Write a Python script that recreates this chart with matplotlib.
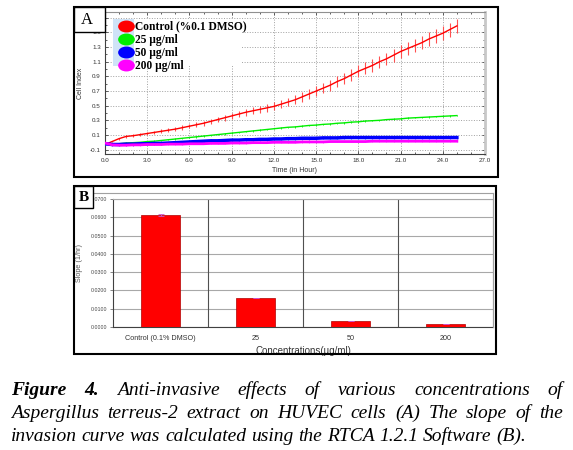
import numpy as np
import matplotlib
matplotlib.use('Agg')
import matplotlib.pyplot as plt
from matplotlib.lines import Line2D
from matplotlib.patches import Rectangle
from matplotlib.path import Path

plt.rcParams['font.family'] = ['Liberation Sans', 'DejaVu Sans']

# ---- panel A: cell index, one reading every 0.5 h ----
hours = np.arange(0, 25.5, 0.5)
control = [-0.03, 0.01, 0.05, 0.08, 0.09, 0.105, 0.12, 0.135, 0.15, 0.165,
           0.18, 0.20, 0.22, 0.24, 0.26, 0.285, 0.31, 0.335, 0.36, 0.385,
           0.41, 0.43, 0.45, 0.47, 0.49, 0.52, 0.55, 0.58, 0.62, 0.66,
           0.70, 0.74, 0.78, 0.83, 0.87, 0.92, 0.97, 1.01, 1.05, 1.10,
           1.14, 1.19, 1.24, 1.28, 1.32, 1.36, 1.41, 1.45, 1.49, 1.54,
           1.59]
control_err = [0.005, 0.01, 0.012, 0.015, 0.018, 0.02, 0.02, 0.022, 0.025, 0.025,
               0.028, 0.03, 0.03, 0.032, 0.035, 0.035, 0.038, 0.04, 0.042, 0.045,
               0.045, 0.048, 0.05, 0.052, 0.055, 0.058, 0.06, 0.062, 0.065, 0.068,
               0.07, 0.072, 0.075, 0.075, 0.078, 0.08, 0.08, 0.082, 0.085, 0.085,
               0.085, 0.088, 0.088, 0.09, 0.09, 0.09, 0.09, 0.092, 0.092, 0.095,
               0.095]
conc25 = [-0.03, -0.025, -0.02, -0.01, -0.005, 0.0, 0.01, 0.015, 0.025, 0.035,
          0.045, 0.055, 0.065, 0.075, 0.085, 0.095, 0.105, 0.115, 0.125, 0.135,
          0.145, 0.155, 0.165, 0.175, 0.185, 0.195, 0.205, 0.21, 0.22, 0.23,
          0.235, 0.245, 0.25, 0.26, 0.265, 0.275, 0.28, 0.29, 0.295, 0.30,
          0.31, 0.315, 0.32, 0.33, 0.335, 0.34, 0.345, 0.35, 0.355, 0.36,
          0.365]
conc50 = [-0.02, -0.03, -0.03, -0.025, -0.025, -0.02, -0.02, -0.015, -0.015, -0.01,
          -0.005, 0.0, 0.005, 0.01, 0.015, 0.02, 0.02, 0.025, 0.03, 0.03,
          0.035, 0.035, 0.04, 0.04, 0.045, 0.045, 0.05, 0.05, 0.055, 0.055,
          0.055, 0.06, 0.06, 0.06, 0.065, 0.065, 0.065, 0.065, 0.065, 0.065,
          0.065, 0.065, 0.065, 0.065, 0.065, 0.065, 0.065, 0.065, 0.065, 0.065,
          0.065]
conc200 = [-0.01, -0.035, -0.04, -0.04, -0.035, -0.035, -0.03, -0.03, -0.03, -0.025,
           -0.025, -0.025, -0.02, -0.02, -0.02, -0.015, -0.015, -0.015, -0.01, -0.01,
           -0.01, -0.005, -0.005, -0.005, 0.0, 0.0, 0.0, 0.0, 0.005, 0.005,
           0.005, 0.005, 0.01, 0.01, 0.01, 0.01, 0.01, 0.01, 0.015, 0.015,
           0.015, 0.015, 0.015, 0.015, 0.015, 0.015, 0.015, 0.015, 0.015, 0.015,
           0.015]
err25 = 0.01
err50 = 0.02
err200 = 0.01
series_labels = ['Control (%0.1 DMSO)', '25 µg/ml', '50 µg/ml', '200 µg/ml']
series_colors = ['#ff0000', '#00ee00', '#0000ff', '#ff00ff']

# ---- panel B: slope of the invasion curve ----
conc_labels = ['Control (0.1% DMSO)', '25', '50', '200']
slopes = [0.0612, 0.0159, 0.0033, 0.0018]
slope_err = [0.0006, 0.0002, 0.0002, 0.0001]

# ---- caption ----
caption_lines = ['Figure 4. Anti-invasive effects of various concentrations of',
                 'Aspergillus terreus-2 extract on HUVEC cells (A) The slope of the',
                 'invasion curve was calculated using the RTCA 1.2.1 Software (B).']

W, H = 573, 450
fig = plt.figure(figsize=(W / 100, H / 100), dpi=100)
fig.patch.set_facecolor('white')


def fbox(x0, y0, x1, y1):
    # pixel box (top-left origin) -> figure fraction rect
    return [x0 / W, 1 - y1 / H, (x1 - x0) / W, (y1 - y0) / H]


def frame(x0, y0, x1, y1, lw=1.5, fill=False, z=10):
    r = Rectangle((x0 / W, 1 - y1 / H), (x1 - x0) / W, (y1 - y0) / H,
                  transform=fig.transFigure, fill=fill, facecolor='white',
                  edgecolor='black', lw=lw, zorder=z)
    fig.add_artist(r)


# ----- panel A -----
axA = fig.add_axes(fbox(105, 12, 485, 154))
axA.errorbar(hours, control, yerr=control_err, color='#ff0000', lw=1.0,
             ecolor='#ff5050', elinewidth=0.8, capsize=0, zorder=3)
axA.errorbar(hours, conc25, yerr=err25, color=series_colors[1], lw=1.0,
             ecolor=series_colors[1], elinewidth=0.6, capsize=0, zorder=3)
axA.errorbar(hours, conc50, yerr=err50, color=series_colors[2], lw=2.5,
             ecolor='#4060ff', elinewidth=0.8, capsize=0, zorder=3)
axA.errorbar(hours, conc200, yerr=err200, color=series_colors[3], lw=2.0,
             ecolor='#ff60ff', elinewidth=0.6, capsize=0, zorder=3)

axA.set_xlim(0, 27)
axA.set_ylim(-0.16, 1.78)
xt = np.arange(0, 27.1, 3)
axA.set_xticks(xt)
axA.set_xticklabels([f'{v:.1f}' for v in xt])
yt = np.arange(-0.1, 1.71, 0.2)
axA.set_yticks(yt)
# the top label sits under the "A" box in the original, so it is left blank
axA.set_yticklabels([f'{v:.1f}' for v in yt[:-1]] + [''])
axA.set_xticks(np.arange(0, 27.1, 1), minor=True)
axA.set_yticks(np.arange(-0.1, 1.78, 0.1), minor=True)
axA.tick_params(which='both', direction='in', top=True, right=True,
                labelsize=4.5, labelcolor='#333333', color='#444444', width=0.6)
axA.tick_params(which='major', length=2.5, pad=3)
axA.tick_params(which='minor', length=1.2)
axA.grid(True, which='major', ls=':', color='#a0a0a0', lw=0.7)
for s in ['left', 'bottom']:
    axA.spines[s].set_color('#404040')
    axA.spines[s].set_linewidth(0.8)
axA.spines['top'].set_color('#909090')
axA.spines['right'].set_color('#c8c8c8')
axA.spines['right'].set_linewidth(2)
axA.set_xlabel('Time (in Hour)', fontsize=5, color='#333333', labelpad=3)
axA.set_ylabel('Cell Index', fontsize=5, color='#333333', labelpad=4)

# legend with oval markers over a white box
oval = Path(Path.unit_circle().vertices * [1.45, 1.0], Path.unit_circle().codes)
handles = [Line2D([], [], ls='none', marker=oval, markersize=11,
                  markerfacecolor=c, markeredgecolor=c) for c in series_colors]
axA.add_patch(Rectangle((0.02, 0.62), 0.34, 0.33, transform=axA.transAxes,
                        facecolor='white', edgecolor='none', zorder=4))
axA.add_patch(Rectangle((0.02, 0.62), 0.056, 0.33, transform=axA.transAxes,
                        facecolor='#cfe3f7', edgecolor='none', zorder=4.5))
leg = axA.legend(handles, series_labels, loc='upper left',
                 bbox_to_anchor=(0.015, 0.995), frameon=False,
                 prop={'family': 'Liberation Serif', 'weight': 'bold', 'size': 8.3},
                 handlelength=1.2, handletextpad=0.2, labelspacing=0.08,
                 borderpad=0.2)
leg.set_zorder(6)

frame(74, 7, 498, 177)
frame(74, 7, 105, 32, lw=1.0, fill=True, z=11)
fig.text(87 / W, 1 - 20 / H, 'A', ha='center', va='center', fontsize=12,
         family='Liberation Serif', zorder=12)

# ----- panel B -----
axB = fig.add_axes(fbox(113, 199, 493, 327))
x = np.arange(len(slopes))
axB.bar(x, slopes, width=0.41, color='#ff0000', edgecolor='#b00000', lw=0.5,
        yerr=slope_err, zorder=3,
        error_kw=dict(ecolor='#cc55cc', capsize=2.5, elinewidth=0.6, capthick=0.6))
axB.set_xlim(-0.5, 3.5)
axB.set_ylim(0, 0.07)
ybt = np.arange(0, 0.0701, 0.01)
axB.set_yticks(ybt)
axB.set_yticklabels([f'{v:.4f}' for v in ybt])
axB.set_xticks(x)
axB.set_xticklabels(conc_labels)
axB.tick_params(axis='y', labelsize=3.8, labelcolor='#444444', length=2,
                color='#555555', width=0.5, pad=2)
axB.tick_params(axis='x', labelsize=5.2, labelcolor='#333333', length=0, pad=6)
axB.grid(True, axis='y', color='#a8a8a8', lw=0.8, zorder=0)
axB.set_axisbelow(True)
for sep in x[:-1] + 0.5:
    axB.axvline(sep, color='#505050', lw=0.8, zorder=1)
axB.spines['left'].set_color('#404040')
axB.spines['bottom'].set_color('#404040')
axB.spines['top'].set_color('#a8a8a8')
axB.spines['right'].set_color('#909090')
axB.set_xlabel('Concentrations(µg/ml)', fontsize=7, color='#333333', labelpad=3)
axB.set_ylabel('Slope (1/hr)', fontsize=5.2, color='#555555', labelpad=6)

# outer chart-area border lines of panel B
fig.add_artist(Line2D([83 / W, 493 / W], [1 - 193 / H, 1 - 193 / H],
                      transform=fig.transFigure, color='#a0a0a0', lw=0.8))
fig.add_artist(Line2D([493 / W, 493 / W], [1 - 193 / H, 1 - 327 / H],
                      transform=fig.transFigure, color='#a0a0a0', lw=0.8))

frame(74, 186, 496, 354)
frame(74, 186, 93, 208, lw=1.0, fill=True, z=11)
fig.text(83.5 / W, 1 - 197 / H, 'B', ha='center', va='center', fontsize=11,
         family='Liberation Serif', weight='bold', zorder=12)

# ----- caption: justified italic serif text -----
cap_fs = 14
left, right = 11, 563
baselines = [395, 418, 441]
renderer = fig.canvas.get_renderer()
for i, line in enumerate(caption_lines):
    words = line.split()
    texts = []
    for j, w in enumerate(words):
        bold = (i == 0 and j < 2)
        t = fig.text(0, 1 - baselines[i] / H, w, fontsize=cap_fs, style='italic',
                     weight='bold' if bold else 'normal',
                     family='Liberation Serif', va='baseline', ha='left')
        texts.append(t)
    widths = [t.get_window_extent(renderer).width for t in texts]
    if i < len(caption_lines) - 1:
        gap = (right - left - sum(widths)) / (len(words) - 1)
    else:
        gap = cap_fs * 0.25 * 100 / 72
    xpos = left
    for t, wd in zip(texts, widths):
        t.set_x(xpos / W)
        xpos += wd + gap

fig.savefig('out.png', dpi=100, facecolor='white')
